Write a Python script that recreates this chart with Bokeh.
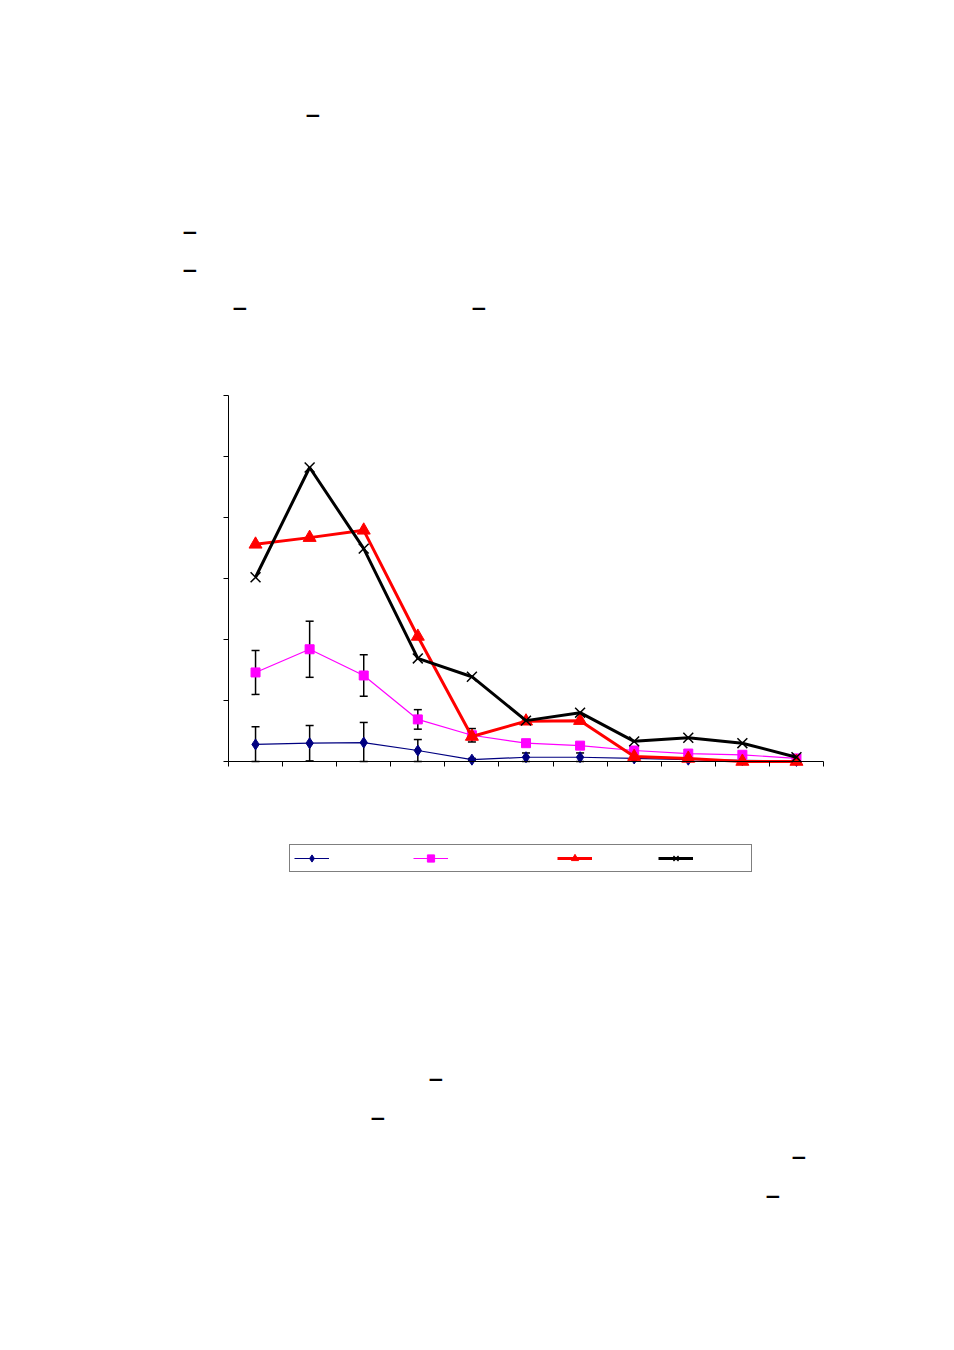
from bokeh.plotting import figure
from bokeh.models import (Range1d, FixedTicker, ColumnDataSource, Whisker, TeeHead,
                          Legend, LegendItem, CustomJSTickFormatter, Label)
from bokeh.embed import file_html
from bokeh.resources import INLINE

# ---- data ----
categories = [1, 2, 3, 4, 5, 6, 7, 8, 9, 10, 11]
s_navy = [0.28, 0.30, 0.31, 0.18, 0.03, 0.07, 0.07, 0.05, 0.03, 0.02, 0.01]
e_navy = [0.29, 0.29, 0.33, 0.18, 0.02, 0.07, 0.07, 0.0, 0.0, 0.0, 0.0]
s_magenta = [1.46, 1.84, 1.41, 0.69, 0.43, 0.30, 0.26, 0.18, 0.13, 0.11, 0.05]
e_magenta = [0.36, 0.46, 0.34, 0.16, 0.11, 0.0, 0.0, 0.0, 0.0, 0.0, 0.0]
s_red = [3.56, 3.67, 3.79, 2.05, 0.41, 0.66, 0.67, 0.08, 0.05, 0.0, 0.0]
s_black = [3.02, 4.82, 3.49, 1.69, 1.39, 0.67, 0.80, 0.33, 0.39, 0.30, 0.07]
y_ticks = [0, 1, 2, 3, 4, 5, 6]
y_min, y_max = 0, 6

# ---- page geometry (pixels) ----
W = 954
AX_L, AX_R, AX_T, AX_B = 228, 823, 395, 761   # where the chart's axes sit on the page
FRAME_L, FRAME_T, FRAME_B = 30, 0, 1240        # drawing area used for the whole page
XPX = (AX_R - AX_L) / len(categories)          # pixels per category
YPX = (AX_B - AX_T) / (y_max - y_min)          # pixels per unit


def page_x(px):
    return 0.5 + (px - AX_L) / XPX


def page_y(py):
    return (AX_B - py) / YPX


p = figure(frame_width=W - FRAME_L, frame_height=FRAME_B - FRAME_T,
           output_backend="svg", toolbar_location=None,
           x_range=Range1d(page_x(FRAME_L), page_x(W)),
           y_range=Range1d(page_y(FRAME_B), page_y(FRAME_T)),
           min_border_left=FRAME_L, min_border_right=0,
           min_border_top=FRAME_T, min_border_bottom=10)
p.outline_line_color = None
p.xgrid.visible = False
p.ygrid.visible = False

p.xaxis.ticker = FixedTicker(ticks=[c - 0.5 for c in categories] + [categories[-1] + 0.5])
p.yaxis.ticker = FixedTicker(ticks=y_ticks)
p.xaxis.fixed_location = y_min
p.xaxis.bounds = (0.5, len(categories) + 0.5)
p.yaxis.fixed_location = 0.5
p.yaxis.bounds = (y_min, y_max)
for ax in (p.xaxis, p.yaxis):
    ax.formatter = CustomJSTickFormatter(code="return ''")
    ax.major_tick_in = 0
    ax.major_tick_out = 5
    ax.minor_tick_line_color = None
    ax.axis_line_color = "black"
    ax.major_tick_line_color = "black"
    ax.axis_line_width = 1


def err_source(vals, errs):
    xs = [c for c, e in zip(categories, errs) if e > 0]
    up = [v + e for v, e in zip(vals, errs) if e > 0]
    lo = [max(v - e, y_min) for v, e in zip(vals, errs) if e > 0]
    return ColumnDataSource(dict(x=xs, upper=up, lower=lo))


def add_whisker(src):
    p.add_layout(Whisker(source=src, base="x", upper="upper", lower="lower",
                         line_color="black", line_width=1.5,
                         upper_head=TeeHead(size=8, line_color="black", line_width=1.5),
                         lower_head=TeeHead(size=8, line_color="black", line_width=1.5)))


add_whisker(err_source(s_navy, e_navy))
r1l = p.line(categories, s_navy, line_color="#000080", line_width=1.2)
r1m = p.scatter(categories, s_navy, marker="diamond", size=11, fill_color="#000080",
                line_color="#000080")
add_whisker(err_source(s_magenta, e_magenta))
r2l = p.line(categories, s_magenta, line_color="#FF00FF", line_width=1.2)
r2m = p.scatter(categories, s_magenta, marker="square", size=9, fill_color="#FF00FF",
                line_color="#FF00FF")
r3l = p.line(categories, s_red, line_color="#FF0000", line_width=3)
r3m = p.scatter(categories, s_red, marker="triangle", size=13, fill_color="#FF0000",
                line_color="#FF0000")
r4l = p.line(categories, s_black, line_color="black", line_width=3)
r4m = p.scatter(categories, s_black, marker="x", size=14, line_color="black",
                line_width=1.5)

# legend box: page left ~288, bottom 872
NB = "\u00a0"
legend = Legend(items=[
    LegendItem(label=NB * 14, renderers=[r1l, r1m]),
    LegendItem(label=NB * 18, renderers=[r2l, r2m]),
    LegendItem(label=NB * 11, renderers=[r3l, r3m]),
    LegendItem(label=NB * 9, renderers=[r4l, r4m]),
], orientation="horizontal", location=(289 - FRAME_L, FRAME_B - 872), margin=0,
    padding=4, spacing=0, label_standoff=0, glyph_width=35, glyph_height=18,
    label_width=0, label_height=18, label_text_font="DejaVu Sans Mono",
    label_text_font_size="10px", border_line_color="black", border_line_width=1,
    background_fill_color="white", background_fill_alpha=1)
p.add_layout(legend)

# stray bar glyphs of the page (text remnants), page pixel centres
dash_px = [312.5, 189.5, 189.5, 239.5, 478.5, 435.5, 377.5, 798.5, 772.5]
dash_py = [114, 231, 269, 307, 307, 1078, 1117, 1156, 1195]
for px, py in zip(dash_px, dash_py):
    p.add_layout(Label(x=page_x(px), y=page_y(py), text="\u2212",
                       text_font="DejaVu Sans", text_font_style="bold",
                       text_font_size="20px", text_align="center",
                       text_baseline="middle", text_color="black"))

open("out.html", "w").write(file_html(p, INLINE))
